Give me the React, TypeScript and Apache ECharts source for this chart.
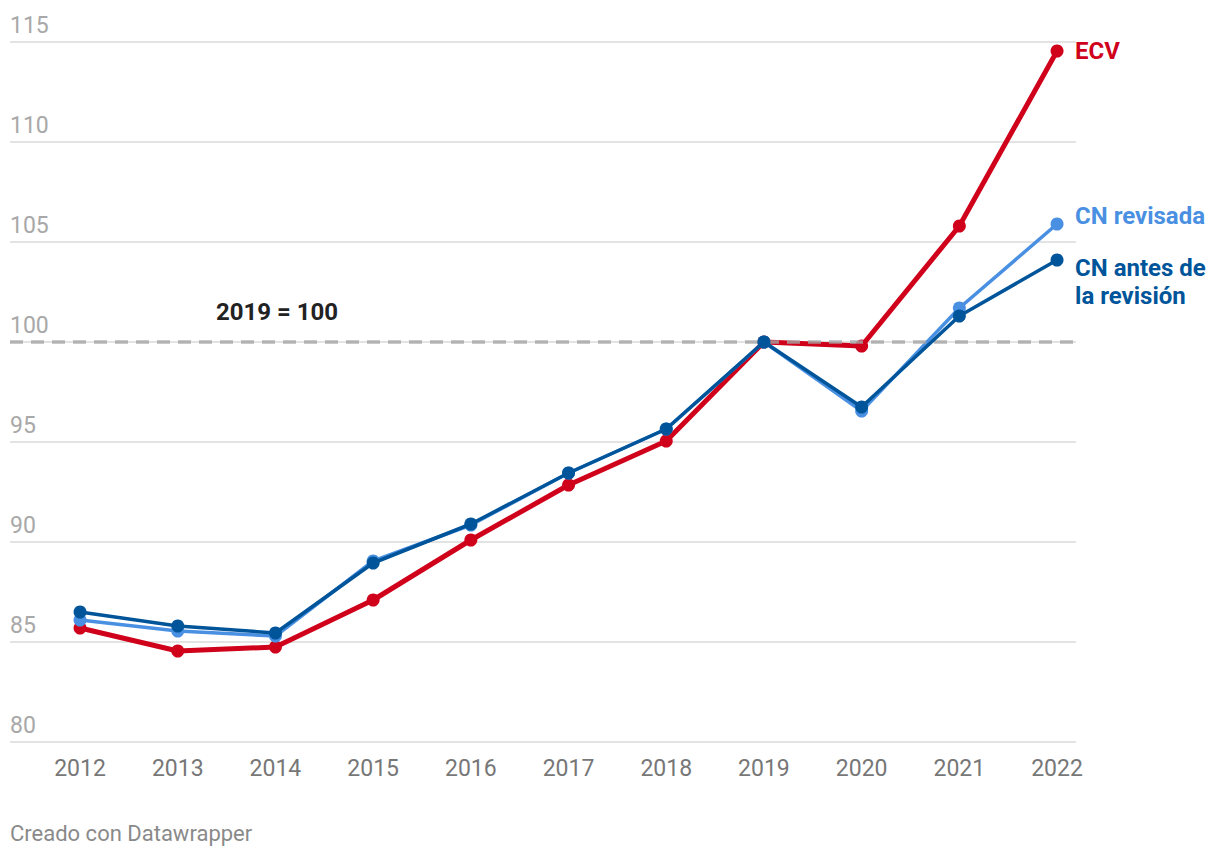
import React, { useEffect, useRef } from "react";
import * as echarts from "echarts";

const years = [2012, 2013, 2014, 2015, 2016, 2017, 2018, 2019, 2020, 2021, 2022];
const ecv = [85.7, 84.55, 84.75, 87.1, 90.1, 92.85, 95.05, 100, 99.8, 105.8, 114.55];
const cnRevisada = [86.1, 85.55, 85.3, 89.05, 90.85, 93.45, 95.65, 100, 96.55, 101.7, 105.9];
const cnAntes = [86.5, 85.8, 85.45, 88.95, 90.9, 93.45, 95.65, 100, 96.75, 101.3, 104.1];
const yTicks = [80, 85, 90, 95, 100, 105, 110, 115];
const baseValue = 100;

const RED = "#d0021b";
const LIGHT = "#4a90e2";
const DARK = "#00559a";
const FONT = "Roboto";

const pairs = (vals: number[]) => years.map((y, i) => [y, vals[i]]);

export default function App() {
  const ref = useRef<HTMLDivElement>(null);
  useEffect(() => {
    document.body.style.margin = "0";
    const chart = echarts.init(ref.current!, undefined, { renderer: "svg" });
    const lineSeries = (name: string, vals: number[], color: string, width: number, label: string, offset: number[], z: number) => ({
      name,
      type: "line",
      data: pairs(vals),
      z,
      symbol: "circle",
      symbolSize: 13,
      itemStyle: { color },
      lineStyle: { color, width },
      emphasis: { disabled: true },
      endLabel: {
        show: true,
        formatter: () => label,
        color,
        fontFamily: FONT,
        fontWeight: "bold",
        fontSize: 24,
        lineHeight: 28,
        distance: 18,
        offset,
        align: "left",
      },
    });
    chart.setOption({
      animation: false,
      textStyle: { fontFamily: FONT },
      grid: { left: 10, right: 144, top: 42, bottom: 116 },
      xAxis: {
        type: "value",
        min: 2011.283,
        max: 2022.194,
        axisLine: { show: false },
        axisTick: { show: false },
        splitLine: { show: false },
        axisLabel: {
          customValues: years,
          formatter: (v: number) => String(Math.round(v)),
          color: "#777777",
          fontSize: 23,
          fontFamily: FONT,
          margin: 15,
        },
      },
      yAxis: {
        type: "value",
        min: yTicks[0],
        max: yTicks[yTicks.length - 1],
        interval: 5,
        axisLine: { show: false },
        axisTick: { show: false },
        splitLine: { lineStyle: { color: "#e3e3e3", width: 2 } },
        axisLabel: {
          inside: true,
          margin: 0,
          align: "left",
          verticalAlign: "bottom",
          padding: [0, 0, 5, 0],
          color: "#a8a8a8",
          fontSize: 23,
          fontFamily: FONT,
        },
      },
      series: [
        lineSeries("ECV", ecv, RED, 5, "ECV", [0, 0], 2),
        {
          name: "base",
          type: "line",
          data: [],
          z: 3,
          markLine: {
            silent: true,
            symbol: "none",
            label: { show: false },
            lineStyle: { color: "rgba(165,165,165,0.8)", type: [13, 8], width: 3.5 },
            data: [{ yAxis: baseValue }],
          },
        },
        lineSeries("CN revisada", cnRevisada, LIGHT, 3.5, "CN revisada", [0, -8], 4),
        lineSeries("CN antes de la revisión", cnAntes, DARK, 3.5, "CN antes de\nla revisión", [0, 22], 5),
      ],
      graphic: [
        {
          type: "text",
          left: 216,
          top: 300,
          style: { text: "2019 = 100", fill: "#222222", font: `bold 24px ${FONT}` },
        },
        {
          type: "text",
          left: 10,
          top: 822,
          style: { text: "Creado con Datawrapper", fill: "#8a8a8a", font: `22px ${FONT}` },
        },
      ],
    });
    return () => chart.dispose();
  }, []);
  return <div ref={ref} style={{ width: 1220, height: 858 }} />;
}
